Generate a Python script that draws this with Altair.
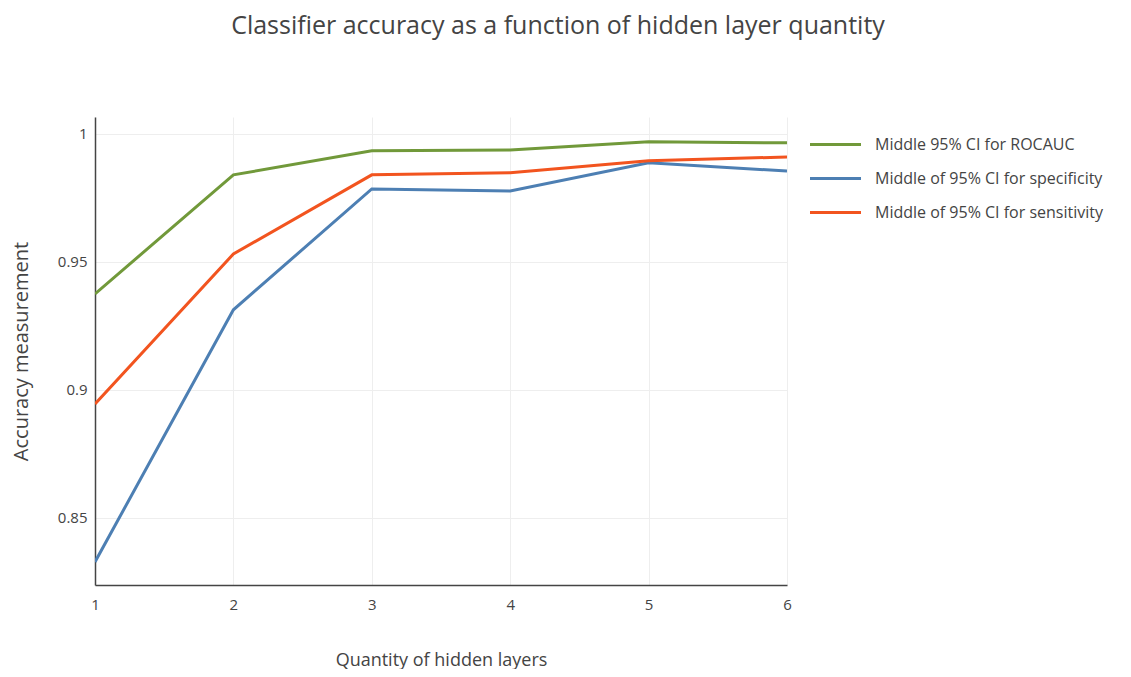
import altair as alt
import pandas as pd

layers = [1, 2, 3, 4, 5, 6]
series_names = [
    "Middle 95% CI for ROCAUC",
    "Middle of 95% CI for specificity",
    "Middle of 95% CI for sensitivity",
]
rocauc = [0.9375, 0.9840, 0.9934, 0.9937, 0.9969, 0.9965]
specificity = [0.8328, 0.9313, 0.9785, 0.9777, 0.9887, 0.9855]
sensitivity = [0.8945, 0.9531, 0.9840, 0.9848, 0.9895, 0.9910]
colors = ["#71993a", "#4d7fb3", "#f2541f"]

rows = []
for name, vals in zip(series_names, [rocauc, specificity, sensitivity]):
    for x, v in zip(layers, vals):
        rows.append({"layers": x, "value": v, "series": name})
df = pd.DataFrame(rows)

font = "Open Sans"

chart = alt.Chart(df).mark_line(strokeWidth=3, clip=True).encode(
    x=alt.X("layers:Q", scale=alt.Scale(domain=[1, 6], nice=False, zero=False),
            axis=alt.Axis(values=layers, format="d", title="Quantity of hidden layers",
                          labelFlush=False, titleFontSize=18)),
    y=alt.Y("value:Q", scale=alt.Scale(domain=[0.8238, 1.0066], nice=False, zero=False),
            axis=alt.Axis(values=[0.85, 0.9, 0.95, 1.0], title="Accuracy measurement",
                          labelFlush=False, titleFontSize=20,
                          labelExpr="datum.value == 1 ? '1' : format(datum.value, '.3~f')")),
    color=alt.Color("series:N",
                    scale=alt.Scale(domain=series_names, range=colors),
                    legend=alt.Legend(title=None, orient="none", legendX=724, legendY=11,
                                      symbolType="M-1.7,0H1.7", symbolSize=900,
                                      symbolStrokeWidth=3, labelFontSize=16,
                                      labelColor="#444", labelFont=font, labelLimit=400,
                                      rowPadding=9, labelOffset=23)),
    order=alt.Order("layers:Q"),
).properties(
    width=692,
    height=468,
    autosize=alt.AutoSizeParams(type="none"),
    padding={"left": 87, "top": 109, "right": 330, "bottom": 84},
    title=alt.TitleParams("Classifier accuracy as a function of hidden layer quantity",
                          fontSize=25, font=font, fontWeight="normal", color="#444",
                          anchor="middle", dx=117, offset=78),
).configure_view(stroke=None).configure_axis(
    domainColor="#444", domainWidth=1.5, gridColor="#eee", ticks=False,
    labelFont=font, labelFontSize=15, labelColor="#444",
    titleFont=font, titleColor="#444", titleFontWeight="normal",
).configure_axisX(labelPadding=12, titlePadding=39).configure_axisY(
    labelPadding=8, titlePadding=26)

chart.save("out.html", embed_options={"renderer": "svg", "actions": False})
